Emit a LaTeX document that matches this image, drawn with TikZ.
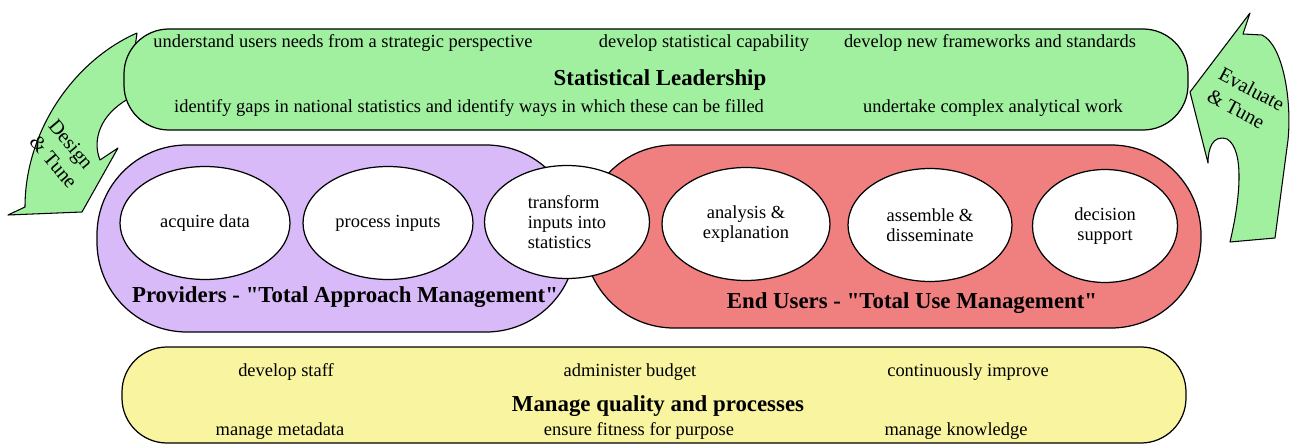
\documentclass[tikz,border=0pt]{standalone}
\usepackage{fontspec}
\setmainfont{Liberation Serif}
\usetikzlibrary{shapes.geometric}

\definecolor{leadgreen}{RGB}{160,240,160}
\definecolor{provpurple}{RGB}{216,186,248}
\definecolor{userred}{RGB}{240,128,128}
\definecolor{qualyellow}{RGB}{248,244,160}

\tikzset{
  band/.style={draw=black, line width=0.7pt},
  stage/.style={ellipse, draw=black, line width=0.7pt, fill=white, minimum height=2.26cm, inner sep=0pt, align=center, font=\fontsize{10.5}{11.5}\selectfont},
  task/.style={font=\fontsize{10.5}{12}\selectfont},
  heading/.style={font=\bfseries\fontsize{13}{15}\selectfont},
  loop/.style={draw=black, line width=0.6pt, fill=leadgreen, line join=round},
  turn/.style={font=\fontsize{11.5}{14}\selectfont, inner sep=0pt},
}

\begin{document}
\begin{tikzpicture}[x=0.02cm, y=-0.02cm]
  \useasboundingbox (0,0) rectangle (1295,446);

  % design & tune
  \draw[loop] (137,33) .. controls (75,60) and (25,130) .. (25,207) -- (8,215) -- (82,212) -- (118,148) -- (100,160) .. controls (92,140) and (100,115) .. (128,99) -- cycle;
  \node[turn, rotate=-50, align=left] (design) at (63,154) {Design\\\& Tune};

  % statistical leadership
  \draw[band, fill=leadgreen, rounded corners=0.9cm] (124,29) rectangle (1188,130);
  \node[task] (users) at (343,43) {understand users needs from a strategic perspective};
  \node[task] (capab) at (704,43) {develop statistical capability};
  \node[task] (frame) at (990,43) {develop new frameworks and standards};
  \node[heading] (lead) at (660,80) {Statistical Leadership};
  \node[task] (gaps) at (469,108) {identify gaps in national statistics and identify ways in which these can be filled};
  \node[task] (complex) at (993,108) {undertake complex analytical work};

  % evaluate & tune
  \draw[loop] (1262,35) .. controls (1283,45) and (1292,100) .. (1288,140) -- (1275,238) -- (1230,242) .. controls (1240,200) and (1245,150) .. (1227,139) .. controls (1212,134) and (1208,150) .. (1208,163) -- (1190,92) -- (1250,13) -- (1243,34) -- cycle;
  \node[turn, rotate=-28, align=left] (evaluate) at (1246,100) {Evaluate\\\& Tune};

  % providers and end users
  \draw[band, fill=provpurple, rounded corners=1.8cm] (97,145) rectangle (576,332);
  \draw[band, fill=userred, rounded corners=1.8cm] (584,145) rectangle (1201,328);
  \node[heading] (prov) at (345,297) {Providers - \textquotedbl Total Approach Management\textquotedbl};
  \node[heading] (enduse) at (912,303) {End Users - \textquotedbl Total Use Management\textquotedbl};

  \node[stage, minimum width=3.4cm] (acquire) at (205,223) {acquire data};
  \node[stage, minimum width=3.4cm] (process) at (388,223) {process inputs};
  \node[stage, minimum width=3.3cm, align=left] (transform) at (567,222) {transform\\inputs into\\statistics};
  \node[stage, minimum width=3.36cm] (analysis) at (746,224) {analysis \&\\explanation};
  \node[stage, minimum width=3.28cm] (assemble) at (930,225) {assemble \&\\disseminate};
  \node[stage, minimum width=2.9cm] (decision) at (1105,226) {decision\\support};

  % quality and processes
  \draw[band, fill=qualyellow, rounded corners=0.9cm] (122,347) rectangle (1186,443);
  \node[task] (staff) at (286,372) {develop staff};
  \node[task] (budget) at (630,372) {administer budget};
  \node[task] (improve) at (968,372) {continuously improve};
  \node[heading] (quality) at (658,406) {Manage quality and processes};
  \node[task] (meta) at (280,431) {manage metadata};
  \node[task] (fitness) at (639,431) {ensure fitness for purpose};
  \node[task] (knowledge) at (956,431) {manage knowledge};
\end{tikzpicture}
\end{document}
